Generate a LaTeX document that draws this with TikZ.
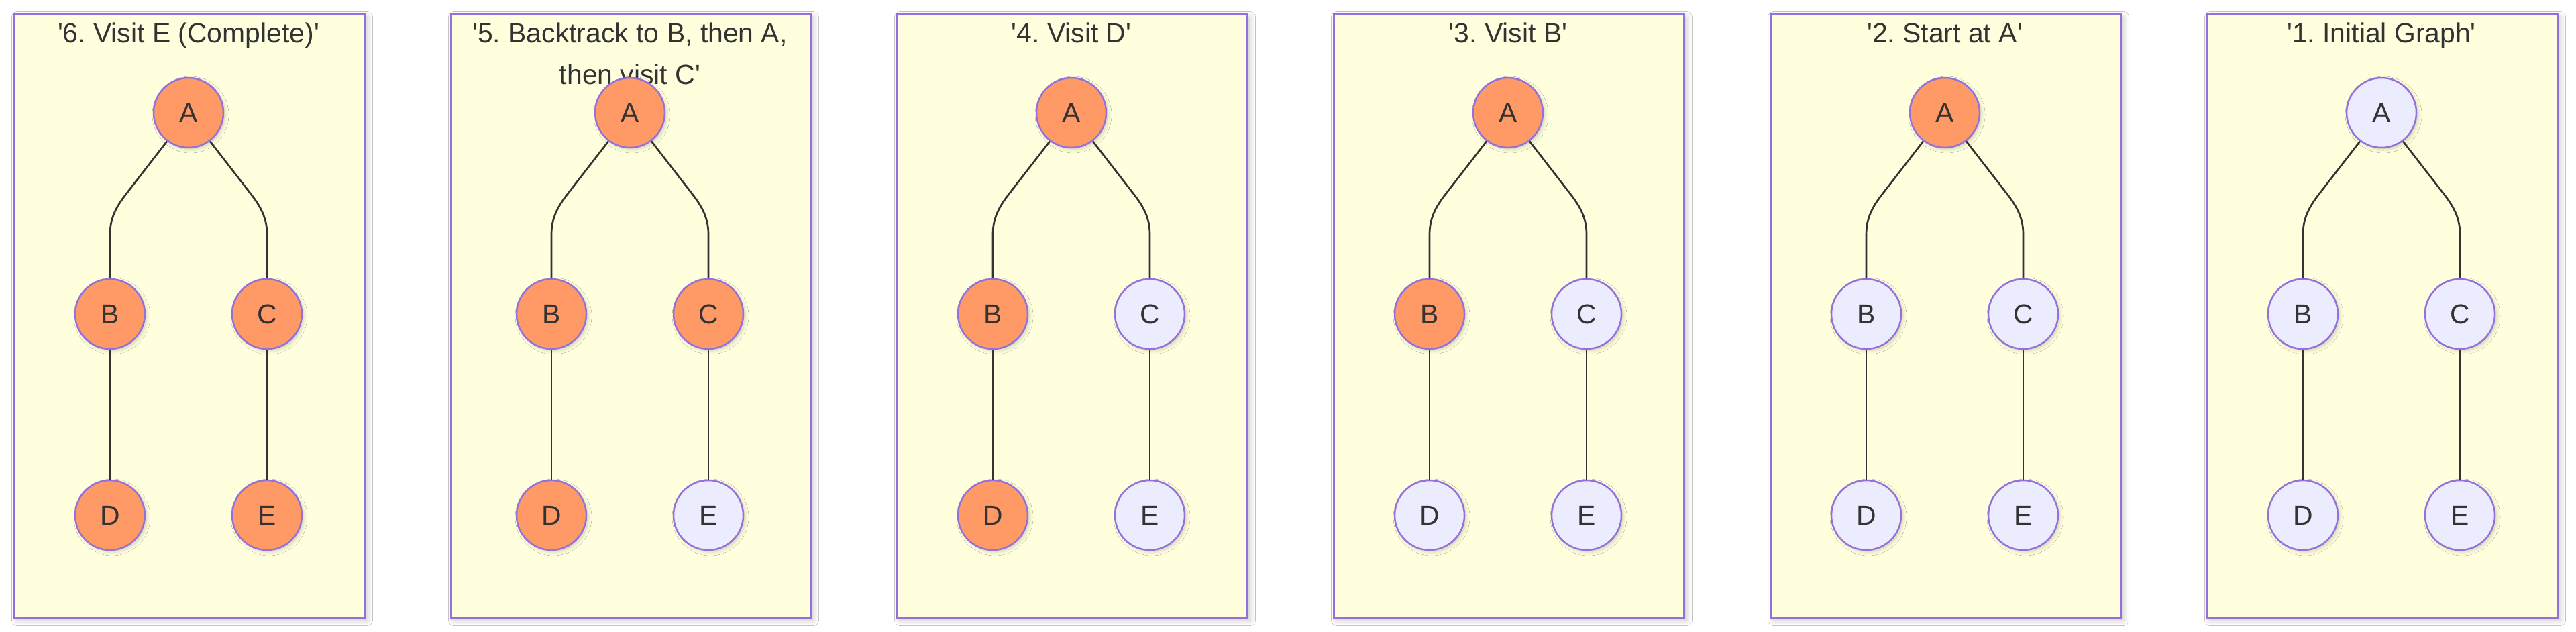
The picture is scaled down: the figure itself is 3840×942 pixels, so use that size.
\documentclass[tikz,border=0pt]{standalone}
\usepackage{fontspec}
\setmainfont{Liberation Sans}
\usetikzlibrary{calc,shadows.blur}
\frenchspacing
\definecolor{panelfill}{HTML}{FFFFDE}
\definecolor{panelborder}{HTML}{9370DB}
\definecolor{nodefill}{HTML}{ECECFF}
\definecolor{visitfill}{HTML}{FF9966}
\definecolor{textcol}{HTML}{333333}
\tikzset{
  panelbox/.style={draw=panelborder, fill=panelfill, line width=1.5pt, inner sep=0pt,
    blur shadow={shadow xshift=2pt, shadow yshift=-2pt, shadow blur radius=4pt, shadow opacity=22}},
  gnode/.style={circle, draw=panelborder, line width=1.25pt, fill=nodefill,
    minimum size=52pt, inner sep=0pt, text=textcol,
    font=\fontsize{20.45pt}{24pt}\selectfont,
    blur shadow={shadow xshift=1.5pt, shadow yshift=-1.5pt, shadow blur radius=2.5pt, shadow opacity=18}},
  visited/.style={fill=visitfill},
  unvisited/.style={fill=nodefill},
  treeedge/.style={draw=textcol, line width=1.35pt},
  ptitle/.style={text=textcol, inner sep=0pt, align=center,
    font=\fontsize{20.45pt}{31pt}\selectfont\frenchspacing}
}
% #1 id, #2 left x, #3 width, #4 title, #5 title baseline y, #6..#9 styles of B..E; A style in \astyle
\newcommand{\dfspanel}[9]{%
  \pgfmathsetmacro\cx{#2+#3/2}
  \node[panelbox, anchor=north west, minimum width={#3*0.5pt}, minimum height={899*0.5pt}] (#1box) at (#2,20) {};
  \node[ptitle, anchor=base] (#1title) at (\cx,#5) {#4};
  \node[gnode,\astyle] (#1A) at (\cx,168) {A};
  \node[gnode,#6] (#1B) at (\cx-117,468) {B};
  \node[gnode,#7] (#1C) at (\cx+117,468) {C};
  \node[gnode,#8] (#1D) at (\cx-117,768) {D};
  \node[gnode,#9] (#1E) at (\cx+117,768) {E};
  \draw[treeedge] (#1A.-127) -- ($(#1B.north)+(22,-123)$)
    .. controls ($(#1B.north)+(6,-102)$) and ($(#1B.north)+(0,-86)$) .. ($(#1B.north)+(0,-64)$)
    -- (#1B.north);
  \draw[treeedge] (#1A.-53) -- ($(#1C.north)+(-22,-123)$)
    .. controls ($(#1C.north)+(-6,-102)$) and ($(#1C.north)+(0,-86)$) .. ($(#1C.north)+(0,-64)$)
    -- (#1C.north);
  \draw[treeedge] (#1B.south) -- (#1D.north);
  \draw[treeedge] (#1C.south) -- (#1E.north);
}
\begin{document}
\begin{tikzpicture}[x=0.5pt,y=-0.5pt]
  \useasboundingbox[fill=white] (0,0) rectangle (3840,942);
  \def\astyle{visited}
  \dfspanel{p6}{20}{522}{\textquotesingle 6. Visit E (Complete)\textquotesingle}{63}{visited}{visited}{visited}{visited}
  \dfspanel{p5}{671}{536}{\textquotesingle 5. Backtrack to B, then A,\\then visit C\textquotesingle}{125}{visited}{visited}{visited}{unvisited}
  \dfspanel{p4}{1336}{522}{\textquotesingle 4. Visit D\textquotesingle}{63}{visited}{unvisited}{visited}{unvisited}
  \dfspanel{p3}{1987}{522}{\textquotesingle 3. Visit B\textquotesingle}{63}{visited}{unvisited}{unvisited}{unvisited}
  \dfspanel{p2}{2638}{522}{\textquotesingle 2. Start at A\textquotesingle}{63}{unvisited}{unvisited}{unvisited}{unvisited}
  \def\astyle{unvisited}
  \dfspanel{p1}{3289}{522}{\textquotesingle 1. Initial Graph\textquotesingle}{63}{unvisited}{unvisited}{unvisited}{unvisited}
\end{tikzpicture}
\end{document}
